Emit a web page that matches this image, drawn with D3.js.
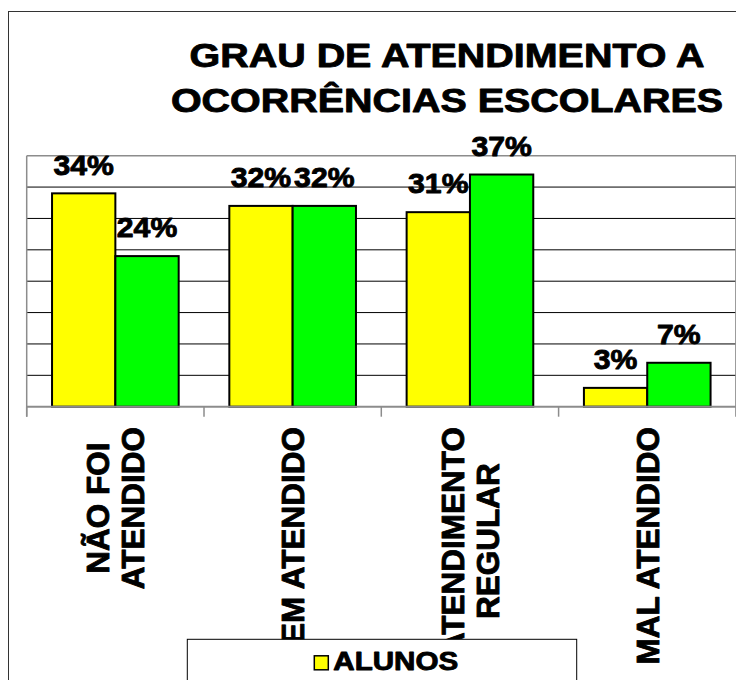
<!DOCTYPE html>
<meta charset="utf-8">
<style>
  body {
    margin: 0;
    background: #fff;
  }

  svg {
    display: block;
    font-family: Arial, "Liberation Sans", sans-serif;
    font-weight: bold;
  }

  /* the source text is heavier than plain bold, so thicken it a little */
  svg text {
    fill: #000;
    stroke: #000;
    stroke-width: 0.9px;
    stroke-linejoin: round;
  }
</style>

<body>

  <script src="https://d3js.org/d3.v7.min.js"></script>

  <script>

    // values
    var titleLines = ["GRAU DE ATENDIMENTO A", "OCORRÊNCIAS ESCOLARES"];
    var categories = ["NÃO FOI\nATENDIDO", "BEM ATENDIDO", "ATENDIMENTO\nREGULAR", "MAL ATENDIDO"];
    var seriesNames = ["ALUNOS", "PAIS"];
    var alunos = [0.34, 0.32, 0.31, 0.03];
    var pais = [0.24, 0.32, 0.37, 0.07];
    var seriesColors = ["#ffff00", "#00ff00"];

    var width = 736, height = 680;
    var plot = { left: 26.7, right: 735.9, top: 155.7, bottom: 406.7 };

    var svg = d3.select("body")
      .append("svg")
      .attr("width", width)
      .attr("height", height);

    // chart frame, it runs on past the right and bottom edge of the window
    svg.append("rect")
      .attr("x", 8.5)
      .attr("y", 11.5)
      .attr("width", 900)
      .attr("height", 800)
      .attr("fill", "#fff")
      .attr("stroke", "#333");

    // scales
    var x0 = d3.scaleBand()
      .domain(categories)
      .range([plot.left, plot.right])
      .paddingInner(0.2857)
      .paddingOuter(0.1429);

    var x1 = d3.scaleBand()
      .domain(seriesNames)
      .range([0, x0.bandwidth()]);

    var y = d3.scaleLinear()
      .domain([0, 0.40])
      .range([plot.bottom, plot.top]);

    var color = d3.scaleOrdinal()
      .domain(seriesNames)
      .range(seriesColors);

    // gridlines
    svg.append("g")
      .selectAll("line")
      .data(y.ticks(8).filter(function (t) { return t > 0 && t < 0.4; }))
      .enter()
      .append("line")
      .attr("x1", plot.left)
      .attr("x2", plot.right)
      .attr("y1", function (d) { return y(d); })
      .attr("y2", function (d) { return y(d); })
      .attr("stroke", "#000")
      .attr("stroke-width", 1);

    // top and right border of the plot area
    svg.append("path")
      .attr("d", "M" + plot.left + "," + y(0.4) + "H" + plot.right + "V" + plot.bottom)
      .attr("fill", "none")
      .attr("stroke", "#8c8c8c")
      .attr("stroke-width", 1.5);

    // bars
    var rows = [];
    categories.forEach(function (c, i) {
      rows.push({ cat: c, serie: seriesNames[0], value: alunos[i] });
      rows.push({ cat: c, serie: seriesNames[1], value: pais[i] });
    });

    svg.append("g")
      .selectAll("rect")
      .data(rows)
      .enter()
      .append("rect")
      .attr("x", function (d) { return x0(d.cat) + x1(d.serie); })
      .attr("y", function (d) { return y(d.value); })
      .attr("width", x1.bandwidth())
      .attr("height", function (d) { return y(0) - y(d.value); })
      .attr("fill", function (d) { return color(d.serie); })
      .attr("stroke", "#000")
      .attr("stroke-width", 2);

    // axes: left line, baseline and category boundary ticks
    var half = x0.step() * x0.paddingInner() / 2;
    var bounds = categories.map(function (c) { return x0(c) - half; });
    bounds.push(plot.right);

    svg.append("line")
      .attr("x1", plot.left).attr("x2", plot.left)
      .attr("y1", y(0.4)).attr("y2", y(0) + 10)
      .attr("stroke", "#8c8c8c")
      .attr("stroke-width", 1.5);

    svg.append("line")
      .attr("x1", plot.left).attr("x2", plot.right)
      .attr("y1", y(0)).attr("y2", y(0))
      .attr("stroke", "#8c8c8c")
      .attr("stroke-width", 2);

    svg.append("g")
      .selectAll("line")
      .data(bounds)
      .enter()
      .append("line")
      .attr("x1", function (d) { return d; })
      .attr("x2", function (d) { return d; })
      .attr("y1", y(0))
      .attr("y2", y(0) + 10)
      .attr("stroke", "#8c8c8c")
      .attr("stroke-width", 1.5);

    // value labels
    var pct = d3.format(".0%");
    svg.append("g")
      .selectAll("text")
      .data(rows)
      .enter()
      .append("text")
      .attr("transform", function (d) {
        var cx = x0(d.cat) + x1(d.serie) + x1.bandwidth() / 2;
        return "translate(" + cx + "," + (y(d.value) - 18.7) + ") scale(1.06,1)";
      })
      .attr("text-anchor", "middle")
      .style("font-size", "28.5px")
      .text(function (d) { return pct(d.value); });

    // category labels, turned on their side
    var catSize = 31.5, catGap = 35.3, capH = 0.716 * catSize, labelTop = 427;
    categories.forEach(function (c) {
      var lines = c.split("\n");
      var g = svg.append("g");
      var cx = x0(c) + x0.bandwidth() / 2;
      var texts = g.selectAll("text")
        .data(lines)
        .enter()
        .append("text")
        .attr("text-anchor", "middle")
        .style("font-size", catSize + "px")
        .text(function (d) { return d; });
      var maxLen = d3.max(texts.nodes(), function (n) { return n.getComputedTextLength(); });
      texts.attr("transform", function (d, i) {
        var bx = cx - (lines.length - 1) * catGap / 2 + i * catGap + capH / 2;
        return "translate(" + bx + "," + (labelTop + maxLen / 2) + ") rotate(-90)";
      });
    });

    // title
    svg.append("g")
      .selectAll("text")
      .data(titleLines)
      .enter()
      .append("text")
      .attr("transform", function (d, i) { return "translate(447," + (66.7 + i * 45) + ") scale(1.16,1)"; })
      .attr("text-anchor", "middle")
      .style("font-size", "34px")
      .text(function (d) { return d; });

    // legend, drawn last so that it covers the ends of the long labels.
    // only its first row falls inside the picture
    var legend = svg.append("g").attr("transform", "translate(187.3,639.3)");
    legend.append("rect")
      .attr("width", 389.4)
      .attr("height", 90)
      .attr("fill", "#fff")
      .attr("stroke", "#000")
      .attr("stroke-width", 1);

    var item = legend.selectAll("g.item")
      .data(seriesNames.slice(0, 1))
      .enter()
      .append("g")
      .attr("class", "item")
      .attr("transform", function (d, i) { return "translate(127," + (31 + i * 32) + ")"; });

    item.append("rect")
      .attr("x", 0)
      .attr("y", -14.5)
      .attr("width", 14)
      .attr("height", 14)
      .attr("fill", function (d) { return color(d); })
      .attr("stroke", "#000")
      .attr("stroke-width", 1.5);

    item.append("text")
      .attr("transform", "translate(19,0) scale(1.16,1)")
      .style("font-size", "25.5px")
      .text(function (d) { return d; });

  </script>
</body>
